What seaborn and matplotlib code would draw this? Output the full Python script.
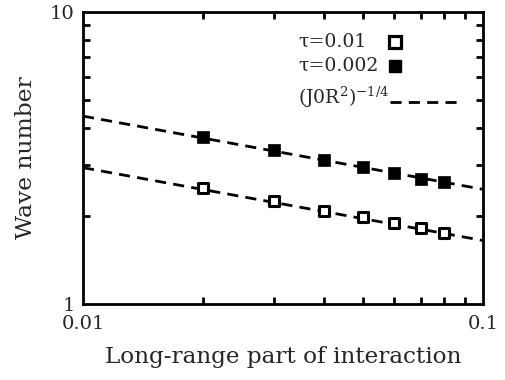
import matplotlib
matplotlib.use("Agg")
import matplotlib.pyplot as plt
import seaborn as sns
import pandas as pd
from matplotlib.ticker import LogLocator, NullFormatter, FixedLocator, FixedFormatter

# data
x_vals = [0.02, 0.03, 0.04, 0.05, 0.06, 0.07, 0.08]
tau_001 = [2.49, 2.25, 2.08, 1.98, 1.89, 1.82, 1.75]
tau_0002 = [3.73, 3.37, 3.11, 2.95, 2.82, 2.69, 2.61]
# power-law guide lines (endpoints at x = 0.01 and 0.1)
guide_x = [0.01, 0.1]
guide_open = [2.93, 1.65]
guide_filled = [4.40, 2.47]
legend_labels = ["τ=0.01", "τ=0.002", "(J0R$^2$)$^{-1/4}$"]

sns.set_style("ticks")
plt.rcParams['font.family'] = ['DejaVu Serif']
plt.rcParams['mathtext.fontset'] = 'dejavuserif'

fig = plt.figure(figsize=(5.05, 3.8), dpi=100)
ax = fig.add_axes([83/505, 76/380, 400/505, 292/380])

df_pts = pd.DataFrame({
    "x": x_vals * 2,
    "y": tau_001 + tau_0002,
    "s": ["open"] * len(x_vals) + ["filled"] * len(x_vals),
})
df_line = pd.DataFrame({
    "x": guide_x * 2,
    "y": guide_open + guide_filled,
    "s": ["a", "a", "b", "b"],
})

dash = (0, (4.0, 2.6))
for grp, sub in df_line.groupby("s"):
    sns.lineplot(data=sub, x="x", y="y", ax=ax, color="black", lw=2.0,
                 linestyle=dash, legend=False, zorder=2)

sub = df_pts[df_pts.s == "open"]
sns.scatterplot(data=sub, x="x", y="y", ax=ax, marker="s", s=48,
                facecolor="white", edgecolor="black", linewidth=2.2,
                legend=False, zorder=3)
sub = df_pts[df_pts.s == "filled"]
sns.scatterplot(data=sub, x="x", y="y", ax=ax, marker="s", s=68,
                color="black", edgecolor="black", linewidth=0.5,
                legend=False, zorder=3)

ax.set_xscale("log")
ax.set_yscale("log")
ax.set_xlim(0.01, 0.1)
ax.set_ylim(1, 10)

ax.xaxis.set_major_locator(FixedLocator([0.01, 0.1]))
ax.xaxis.set_major_formatter(FixedFormatter(["0.01", "0.1"]))
ax.yaxis.set_major_locator(FixedLocator([1, 10]))
ax.yaxis.set_major_formatter(FixedFormatter(["1", "10"]))
ax.xaxis.set_minor_locator(LogLocator(base=10, subs=range(2, 10)))
ax.yaxis.set_minor_locator(LogLocator(base=10, subs=range(2, 10)))
ax.xaxis.set_minor_formatter(NullFormatter())
ax.yaxis.set_minor_formatter(NullFormatter())

ax.tick_params(which="both", direction="in", top=True, right=True, width=2.0,
               labelsize=14, color="black")
ax.tick_params(which="major", length=0)
ax.tick_params(which="minor", length=5)
ax.tick_params(axis="x", which="major", pad=8)
ax.tick_params(axis="y", which="major", pad=6)
for sp in ax.spines.values():
    sp.set_linewidth(2.0)
    sp.set_color("black")

ax.set_xlabel("Long-range part of interaction", fontsize=16.7, labelpad=9)
ax.set_ylabel("Wave number", fontsize=16.8, labelpad=9)

# legend drawn manually: text left-aligned, symbol to the right
tx = (298 - 83) / 400
rows = [(304 - 42) / 292, (304 - 66) / 292, (304 - 97) / 292]
mx = (395 - 83) / 400
for lab, ry in zip(legend_labels, rows):
    ax.text(tx, ry, lab, transform=ax.transAxes, fontsize=13.6,
            ha="left", va="center")
ax.plot([mx], [rows[0]], transform=ax.transAxes, marker="s", ls="none",
        markersize=8.0, markerfacecolor="white", markeredgecolor="black",
        markeredgewidth=2.3, clip_on=False)
ax.plot([mx], [rows[1]], transform=ax.transAxes, marker="s", ls="none",
        markersize=8.5, color="black", clip_on=False)
ly = (304 - 102) / 292
ax.plot([(390 - 83) / 400, (458 - 83) / 400], [ly, ly],
        transform=ax.transAxes, color="black", lw=2.0, linestyle=dash,
        clip_on=False)

fig.savefig("out.png", dpi=100)
